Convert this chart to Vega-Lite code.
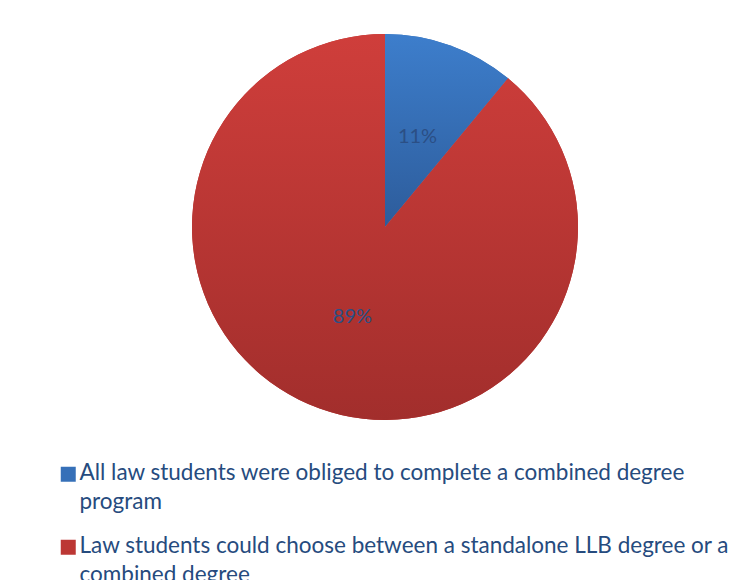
{
  "$schema": "https://vega.github.io/schema/vega-lite/v6.json",
  "autosize": "none",
  "width": 386,
  "height": 386,
  "padding": {"left": 192, "top": 34, "right": 173, "bottom": 160},
  "background": "white",
  "data": {
    "values": [
      {"category": "All law students were obliged to complete a combined degree program", "value": 0.11},
      {"category": "Law students could choose between a standalone LLB degree or a combined degree", "value": 0.89}
    ]
  },
  "encoding": {
    "theta": {"field": "value", "type": "quantitative", "stack": true},
    "order": {"field": "category", "type": "nominal"}
  },
  "layer": [
    {
      "mark": {"type": "arc"},
      "encoding": {
        "color": {
          "field": "category",
          "type": "nominal",
          "scale": {
            "domain": [
              "All law students were obliged to complete a combined degree program",
              "Law students could choose between a standalone LLB degree or a combined degree"
            ],
            "range": ["#3670B8", "#BC3734"]
          },
          "legend": {
            "orient": "none",
            "legendX": -135,
            "legendY": 429,
            "title": null,
            "symbolType": "square",
            "symbolSize": 225,
            "symbolStrokeWidth": 0,
            "labelFont": "Lato",
            "labelFontSize": 22.5,
            "labelColor": "#264B7E",
            "labelLimit": 0,
            "labelOffset": 0,
            "labelBaseline": "top",
            "rowPadding": 21,
            "labelExpr": "datum.label == 'All law students were obliged to complete a combined degree program' ? ['All law students were obliged to complete a combined degree', 'program'] : ['Law students could choose between a standalone LLB degree or a', 'combined degree']",
            "encoding": {
              "labels": {"dy": {"value": -12}, "lineHeight": {"value": 29}},
              "symbols": {
                "fill": {
                  "condition": {
                    "test": "datum.value == 'All law students were obliged to complete a combined degree program'",
                    "value": {"gradient": "linear", "x1": 0, "y1": 0, "x2": 0, "y2": 1, "stops": [{"offset": 0, "color": "#3D7ECC"}, {"offset": 1, "color": "#2D5C9B"}]}
                  },
                  "value": {"gradient": "linear", "x1": 0, "y1": 0, "x2": 0, "y2": 1, "stops": [{"offset": 0, "color": "#CF3E3B"}, {"offset": 1, "color": "#A22E2C"}]}
                }
              }
            }
          }
        }
      }
    },
    {
      "mark": {"type": "arc"},
      "encoding": {
        "fill": {
          "condition": {
            "test": "datum.category == 'All law students were obliged to complete a combined degree program'",
            "value": {"gradient": "linear", "x1": 0, "y1": 0, "x2": 0, "y2": 1, "stops": [{"offset": 0, "color": "#3D7ECC"}, {"offset": 1, "color": "#2D5C9B"}]}
          },
          "value": {"gradient": "linear", "x1": 0, "y1": 0, "x2": 0, "y2": 1, "stops": [{"offset": 0, "color": "#CF3E3B"}, {"offset": 1, "color": "#A22E2C"}]}
        }
      }
    },
    {
      "mark": {"type": "text", "radius": 96, "font": "Lato", "fontSize": 20, "color": "#2B4F85"},
      "encoding": {
        "text": {"field": "value", "type": "quantitative", "format": ".0%"}
      }
    }
  ]
}
